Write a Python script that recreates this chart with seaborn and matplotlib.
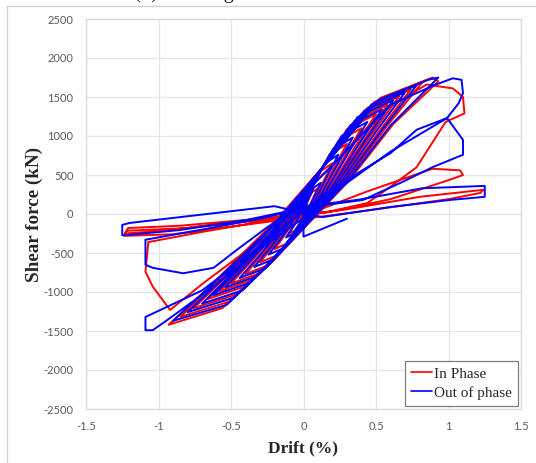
import matplotlib
matplotlib.use("Agg")
import matplotlib.pyplot as plt
from matplotlib.lines import Line2D
import numpy as np
import pandas as pd
import seaborn as sns

# drift (%) / shear force (kN), one cycle per row
red_path = [
    (0.00, 0),
    (0.025, 149), (0.06, 281), (0.10, 330), (0.07, 218), (0.035, 79), (-0.025, -113), (-0.06, -213), (-0.10, -250), (-0.07, -165), (-0.035, -60),
    (0.05, 293), (0.12, 553), (0.20, 650), (0.14, 429), (0.07, 156), (-0.05, -203), (-0.12, -383), (-0.20, -450), (-0.14, -297), (-0.07, -108),
    (0.075, 405), (0.18, 765), (0.30, 900), (0.21, 594), (0.105, 216), (-0.075, -279), (-0.18, -527), (-0.30, -620), (-0.21, -409), (-0.105, -149),
    (0.10, 495), (0.24, 935), (0.40, 1100), (0.28, 726), (0.14, 264), (-0.10, -347), (-0.24, -655), (-0.40, -770), (-0.28, -508), (-0.14, -185),
    (0.125, 576), (0.30, 1088), (0.50, 1280), (0.35, 845), (0.175, 307), (-0.125, -401), (-0.30, -757), (-0.50, -890), (-0.35, -587), (-0.175, -214),
    (0.145, 630), (0.35, 1190), (0.58, 1400), (0.41, 924), (0.20, 336), (-0.145, -446), (-0.35, -842), (-0.58, -990), (-0.41, -653), (-0.20, -238),
    (0.165, 680), (0.40, 1284), (0.66, 1510), (0.46, 997), (0.23, 362), (-0.165, -491), (-0.40, -927), (-0.66, -1090), (-0.46, -719), (-0.23, -262),
    (0.185, 720), (0.44, 1360), (0.74, 1600), (0.52, 1056), (0.26, 384), (-0.19, -545), (-0.46, -1029), (-0.76, -1210), (-0.53, -799), (-0.27, -290),
    (0.205, 760), (0.49, 1437), (0.82, 1690), (0.57, 1115), (0.29, 406), (-0.21, -594), (-0.51, -1122), (-0.85, -1320), (-0.60, -871), (-0.30, -317),
    (0.22, 788), (0.53, 1488), (0.89, 1750), (0.93, 1700), (0.62, 1155), (0.31, 420), (-0.23, -639), (-0.56, -1207), (-0.93, -1420), (-0.65, -937), (-0.33, -341),
    (0.25, 720), (0.55, 1330), (0.85, 1660), (1.03, 1610), (1.10, 1500), (1.11, 1290), (0.98, 1180), (0.78, 600), (0.60, 350), (0.44, 140), (0.15, 20),
    (-0.30, -100), (-0.70, -230), (-1.07, -360), (-1.09, -740), (-1.04, -930), (-0.92, -1230), (-0.70, -900), (-0.40, -480), (-0.10, -100),
    (0.20, 120), (0.44, 290), (0.89, 580), (1.08, 560), (1.10, 500), (1.01, 440), (0.60, 190), (0.18, 25),
    (-0.30, -60), (-0.85, -150), (-1.21, -180), (-1.23, -250), (-0.97, -215), (-0.50, -110), (0.00, -10),
    (0.30, 60), (0.80, 220), (1.24, 310), (1.22, 270), (1.00, 190), (0.50, 60), (0.10, -40),
    (-0.40, -100), (-0.80, -180), (-1.22, -215), (-1.24, -280), (-0.90, -260), (-0.45, -150), (0.00, -40),
]

blue_path = [
    (0.00, 0),
    (0.03, 180), (0.072, 340), (0.12, 400), (0.084, 264), (0.042, 96), (-0.03, -135), (-0.072, -255), (-0.12, -300), (-0.084, -198), (-0.042, -72),
    (0.06, 342), (0.144, 646), (0.24, 760), (0.168, 502), (0.084, 182), (-0.06, -234), (-0.144, -442), (-0.24, -520), (-0.168, -343), (-0.084, -125),
    (0.085, 441), (0.204, 833), (0.34, 980), (0.238, 647), (0.119, 235), (-0.085, -306), (-0.204, -578), (-0.34, -680), (-0.238, -449), (-0.119, -163),
    (0.11, 531), (0.264, 1003), (0.44, 1180), (0.308, 779), (0.154, 283), (-0.11, -369), (-0.264, -697), (-0.44, -820), (-0.308, -541), (-0.154, -197),
    (0.135, 603), (0.324, 1139), (0.54, 1340), (0.378, 884), (0.189, 322), (-0.135, -423), (-0.324, -799), (-0.54, -940), (-0.378, -620), (-0.189, -226),
    (0.155, 657), (0.372, 1241), (0.62, 1460), (0.434, 964), (0.217, 350), (-0.155, -468), (-0.372, -884), (-0.62, -1040), (-0.434, -686), (-0.217, -250),
    (0.175, 702), (0.42, 1326), (0.70, 1560), (0.49, 1030), (0.245, 374), (-0.175, -518), (-0.42, -978), (-0.70, -1150), (-0.49, -759), (-0.245, -276),
    (0.195, 743), (0.468, 1403), (0.78, 1650), (0.546, 1089), (0.273, 396), (-0.20, -567), (-0.48, -1071), (-0.80, -1260), (-0.56, -832), (-0.28, -302),
    (0.215, 774), (0.516, 1462), (0.86, 1720), (0.93, 1750), (0.60, 1135), (0.30, 413), (-0.22, -617), (-0.53, -1165), (-0.90, -1370), (-0.63, -904), (-0.31, -329),
    (0.25, 720), (0.60, 1400), (0.90, 1650), (1.03, 1740), (1.09, 1720), (1.10, 1550), (1.07, 1420), (0.99, 1230), (0.78, 1080), (0.60, 780), (0.37, 520), (0.20, 270), (0.00, 40),
    (-0.30, -420), (-0.70, -980), (-1.09, -1320), (-1.09, -1490), (-1.04, -1490), (-0.94, -1360), (-0.60, -900), (-0.30, -450), (0.00, -50),
    (0.30, 400), (0.60, 800), (0.99, 1230), (1.10, 950), (1.10, 760), (0.89, 600), (0.67, 400), (0.41, 180), (0.05, 90),
    (-0.30, -60), (-0.70, -200), (-1.09, -330), (-1.09, -650), (-1.04, -690), (-0.83, -760), (-0.62, -690), (-0.46, -460), (-0.25, -170), (-0.04, 90),
    (0.37, 180), (0.82, 330), (1.25, 360), (1.25, 220), (1.01, 180), (0.60, 90), (0.13, -40),
    (-0.20, 100), (-0.62, 10), (-1.20, -115), (-1.25, -140), (-1.25, -270), (-1.22, -270), (-0.85, -205), (-0.39, -75), (-0.07, 50),
    (0.00, -10), (0.00, -290), (0.30, -60),
]

series_names = ["In Phase", "Out of phase"]
series_colors = ["#ff0000", "#0000ff"]

x_ticks = [-1.5, -1, -0.5, 0, 0.5, 1, 1.5]
x_tick_labels = ["-1.5", "-1", "-0.5", "0", "0.5", "1", "1.5"]
y_ticks = list(range(-2500, 2501, 500))


rows = []
for name, path in zip(series_names, [red_path, blue_path]):
    for i, (d, f) in enumerate(path):
        rows.append({"drift": d, "force": f, "series": name, "step": i})
df = pd.DataFrame(rows)

sns.set_style("whitegrid")
fig = plt.figure(figsize=(5.36, 4.63), dpi=100)
ax = fig.add_axes([86 / 536, 1 - 409 / 463, 435 / 536, 390 / 463])

sns.lineplot(data=df, x="drift", y="force", hue="series", hue_order=series_names,
             palette=dict(zip(series_names, series_colors)), sort=False,
             estimator=None, linewidth=1.4, ax=ax)

ax.set_xlim(-1.5, 1.5)
ax.set_ylim(-2500, 2500)
ax.set_xticks(x_ticks)
ax.set_xticklabels(x_tick_labels)
ax.set_yticks(y_ticks)
ax.set_yticklabels([str(v) for v in y_ticks])
ax.tick_params(axis="both", length=0, labelsize=8, labelcolor="#595959", pad=9)
for lab in ax.get_xticklabels() + ax.get_yticklabels():
    lab.set_family("Lato")
ax.grid(True, color="#e6e6e6", linewidth=0.9)
for sp in ax.spines.values():
    sp.set_color("#d9d9d9")
    sp.set_linewidth(0.9)

ax.set_xlabel("Drift (%)", family="Liberation Serif", fontweight="bold", fontsize=12.5, labelpad=6)
ax.set_ylabel("Shear force (kN)", family="Liberation Serif", fontweight="bold", fontsize=13.8, labelpad=0)

handles = [Line2D([], [], color=c, linewidth=1.2) for c in series_colors]
leg = ax.legend(handles, series_names, loc="lower right", fancybox=False, framealpha=1,
                edgecolor="#7f7f7f", borderaxespad=0.2, handlelength=1.4, handletextpad=0.1,
                labelspacing=0.35, prop={"family": "Liberation Serif", "size": 11})
leg.get_frame().set_linewidth(0.9)

# cropped heading and outer frame of the source figure
fig.text(250 / 536, 1 + 2 / 463, "(b) Rocking controlled wall", ha="center", va="baseline",
         family="Liberation Serif", fontsize=15)
fig.add_artist(Line2D([7 / 536, 7 / 536], [0, 1 - 6 / 463], transform=fig.transFigure,
                      color="#d0d0d0", linewidth=1))
fig.add_artist(Line2D([7 / 536, 1], [1 - 6 / 463, 1 - 6 / 463], transform=fig.transFigure,
                      color="#d0d0d0", linewidth=1))

fig.savefig("out.png", dpi=100)
